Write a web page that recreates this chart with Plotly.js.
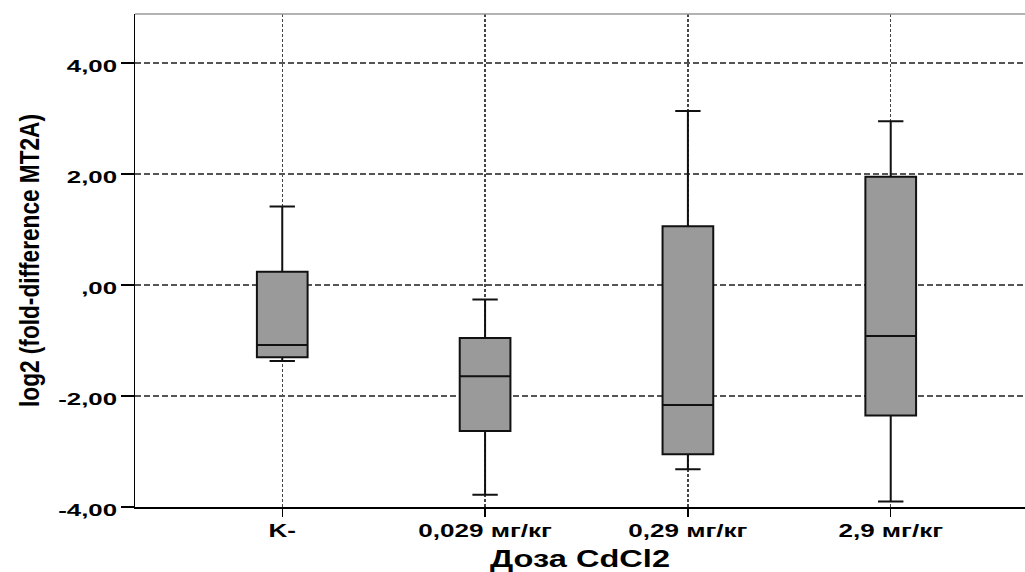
<!DOCTYPE html>
<html><head><meta charset="utf-8">
<script src="https://cdn.plot.ly/plotly-3.0.1.min.js"></script>
<style>body{margin:0;background:#fff}</style>
</head><body>
<div id="chart" style="width:1025px;height:572px"></div>
<script>
const categories = ['K-', '0,029 мг/кг', '0,29 мг/кг', '2,9 мг/кг'];
const lowerWhisker = [-1.37, -3.78, -3.32, -3.90];
const q1Values = [-1.30, -2.63, -3.05, -2.35];
const medianValues = [-1.08, -1.645, -2.16, -0.92];
const q3Values = [0.24, -0.955, 1.06, 1.95];
const upperWhisker = [1.415, -0.26, 3.135, 2.95];
const yTickValues = [-4, -2, 0, 2, 4];
const yTickLabels = ['-4,00', '-2,00', ',00', '2,00', '4,00'];
const xTitle = 'Доза CdCl2';
const yTitle = 'log2 (fold-difference MT2A)';

const FONT = 'Liberation Sans, Arial, sans-serif';

const data = [{
  type: 'box',
  x: categories,
  q1: q1Values,
  median: medianValues,
  q3: q3Values,
  lowerfence: lowerWhisker,
  upperfence: upperWhisker,
  boxpoints: false,
  fillcolor: '#9a9a9a',
  line: {color: '#111', width: 2},
  width: 0.25,
  whiskerwidth: 0.5,
  hoverinfo: 'skip',
  showlegend: false
}];

const layout = {
  width: 1025, height: 572,
  margin: {l: 135, r: 0, t: 14, b: 65},
  paper_bgcolor: '#fff', plot_bgcolor: '#fff',
  showlegend: false,
  xaxis: {
    type: 'category',
    range: [-0.726, 3.662],
    showgrid: true, gridcolor: '#444', griddash: '3px,2px', gridwidth: 1.2,
    zeroline: false,
    showline: true, linecolor: '#000', linewidth: 1.5,
    ticks: 'outside', ticklen: 8, tickcolor: '#000', tickwidth: 1.5,
    tickfont: {family: FONT, size: 19, color: '#000', weight: 'bold'},
    ticklabelstandoff: -2,
    title: {text: xTitle, font: {family: FONT, size: 23, color: '#000', weight: 'bold'}, standoff: 13},
    automargin: false
  },
  yaxis: {
    range: [-4, 4.883],
    tickvals: yTickValues, ticktext: yTickLabels,
    showgrid: true, gridcolor: '#555', griddash: '6px,3px', gridwidth: 1.2,
    zeroline: false,
    showline: true, linecolor: '#000', linewidth: 1.5,
    ticks: 'outside', ticklen: 13, tickcolor: '#000', tickwidth: 1.5,
    tickfont: {family: FONT, size: 17, color: '#000', weight: 'bold'},
    ticklabelshift: 3,
    title: {text: yTitle, font: {family: FONT, size: 28, color: '#000', weight: 'bold'}, standoff: 30},
    automargin: false
  },
  shapes: [{
    type: 'line', xref: 'paper', yref: 'paper', x0: 0, x1: 1, y0: 1, y1: 1,
    line: {color: '#999', width: 1.5}
  }]
};

Plotly.newPlot('chart', data, layout, {staticPlot: true, displayModeBar: false}).then(function (gd) {
  function stretch(sel, f) {
    gd.querySelectorAll(sel).forEach(function (t) {
      var L = t.getComputedTextLength();
      t.setAttribute('textLength', (L * f).toFixed(1));
      t.setAttribute('lengthAdjust', 'spacingAndGlyphs');
    });
  }
  function fit(sel, len) {
    gd.querySelectorAll(sel).forEach(function (t) {
      t.setAttribute('textLength', String(len));
      t.setAttribute('lengthAdjust', 'spacingAndGlyphs');
    });
  }
  stretch('.xtick text', 1.37);
  stretch('.ytick text', 1.52);
  fit('.g-xtitle text', 180);
  fit('.g-ytitle text', 293);
});
</script>
</body></html>
